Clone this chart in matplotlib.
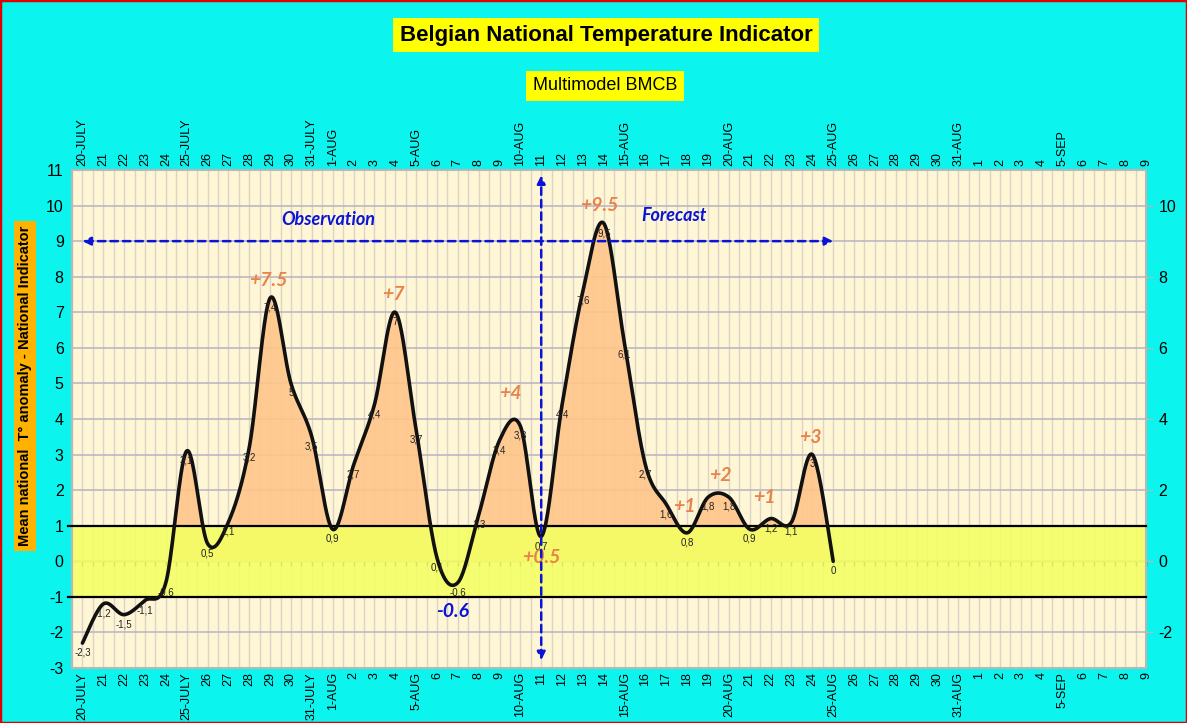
import numpy as np
import matplotlib
matplotlib.use("Agg")
import matplotlib.pyplot as plt
from matplotlib.patches import Rectangle

# ---------------- data ----------------
day_labels = ["20-JULY", "21", "22", "23", "24", "25-JULY", "26", "27", "28", "29", "30",
              "31-JULY", "1-AUG", "2", "3", "4", "5-AUG", "6", "7", "8", "9", "10-AUG",
              "11", "12", "13", "14", "15-AUG", "16", "17", "18", "19", "20-AUG",
              "21", "22", "23", "24", "25-AUG", "26", "27", "28", "29", "30", "31-AUG",
              "1", "2", "3", "4", "5-SEP", "6", "7", "8", "9"]
anomaly = [-2.3, -1.2, -1.5, -1.1, -0.6, 3.1, 0.5, 1.1, 3.2, 7.4, 5.0, 3.5, 0.9,
           2.7, 4.4, 7.0, 3.7, 0.1, -0.6, 1.3, 3.4, 3.8, 0.7, 4.4, 7.6, 9.5, 6.1,
           2.7, 1.6, 0.8, 1.8, 1.8, 0.9, 1.2, 1.1, 3.0, 0.0]
peak_texts = ["+7.5", "+7", "+4", "+9.5", "+1", "+2", "+1", "+3", "+0.5"]
peak_x = [8.9, 14.9, 20.5, 24.8, 28.85, 30.6, 32.7, 34.9, 22.0]
peak_y = [7.9, 7.5, 4.72, 10.0, 1.55, 2.42, 1.8, 3.49, 0.12]
obs_end = 22          # 11-AUG: split observation / forecast
band_lo, band_hi = -1, 1

# ---------------- colours ----------------
CYAN = "#0cf4ee"
CREAM = "#fff6d6"
ORANGE = "#ffc68a"
YELLOW = "#f4ff62"
PEAK = "#e8834c"
BLUE = "#0a14d8"

plt.rcParams["font.family"] = ["Liberation Sans", "DejaVu Sans"]
plt.rcParams["axes.unicode_minus"] = False

fig = plt.figure(figsize=(11.87, 7.23), dpi=100, facecolor=CYAN)
W, H = 1187, 723
ax = fig.add_axes([72 / W, (H - 668) / H, 1074 / W, 498 / H])
ax.set_facecolor(CREAM)

n = len(day_labels)
ax.set_xlim(-0.5, n - 1)
ax.set_ylim(-3, 11)

# grid
for v in np.arange(-0.5, n - 0.5, 0.5):
    ax.axvline(v, color="#dcd4c4", lw=1.0, zorder=0)
for v in range(-3, 12):
    ax.axhline(v, color="#bdb7c2", lw=1.2, zorder=0.5)

# smoothed curve (Catmull-Rom / Excel-like bezier)
x = np.arange(len(anomaly), dtype=float)
y = np.array(anomaly, dtype=float)
P = np.column_stack([x, y])
Pext = np.vstack([P[0], P, P[-1]])
t = np.linspace(0, 1, 40)
xs, ys = [], []
for i in range(len(P) - 1):
    p0, p1, p2, p3 = Pext[i], Pext[i + 1], Pext[i + 2], Pext[i + 3]
    c1 = p1 + (p2 - p0) / 6.0
    c2 = p2 - (p3 - p1) / 6.0
    b = ((1 - t) ** 3)[:, None] * p1 + (3 * (1 - t) ** 2 * t)[:, None] * c1 + \
        (3 * (1 - t) * t ** 2)[:, None] * c2 + (t ** 3)[:, None] * p2
    xs.append(b[:-1, 0]); ys.append(b[:-1, 1])
xs.append([P[-1, 0]]); ys.append([P[-1, 1]])
xs = np.concatenate(xs); ys = np.concatenate(ys)

ax.fill_between(xs, 0, np.clip(ys, 0, None), color=ORANGE, alpha=0.9, lw=0, zorder=1)
ax.axhspan(band_lo, band_hi, color=YELLOW, alpha=0.88, lw=0, zorder=2)
ax.axhline(band_hi, xmin=-0.004, color="black", lw=1.6, zorder=3, clip_on=False)
ax.axhline(band_lo, xmin=-0.004, color="black", lw=1.6, zorder=3, clip_on=False)
ax.plot(xs, ys, color="#111111", lw=2.6, zorder=5, solid_capstyle="round")

# zero axis with half-day ticks
zax = ax.secondary_xaxis(location=3 / 14)
zax.set_xticks(np.arange(-0.5, n - 0.5, 0.5))
zax.tick_params(axis="x", direction="out", length=3.5, width=1, labelbottom=False, color="#333333")
zax.spines["bottom"].set_color("#555555")
zax.spines["bottom"].set_linewidth(1)

# data labels
for xi, yi in zip(x, y):
    ax.annotate(f"{yi:g}".replace(".", ","), (xi, yi), xytext=(0, -7), textcoords="offset points",
                ha="center", va="center", fontsize=7, color="#222222", zorder=6)

# peak annotations
for txt, px, py in zip(peak_texts, peak_x, peak_y):
    ax.text(px, py, txt, ha="center", va="center", fontsize=14, color=PEAK,
            fontfamily="Lato", fontweight="bold", fontstyle="italic", zorder=7)
ax.text(17.77, -1.4, "-0.6", ha="center", va="center", fontsize=14, color=BLUE,
        fontfamily="Lato", fontweight="bold", fontstyle="italic", zorder=7)
ax.text(11.78, 9.61, "Observation", ha="center", va="center", fontsize=13, color=BLUE,
        fontfamily="Lato", fontweight="bold", fontstyle="italic", zorder=7)
ax.text(28.37, 9.72, "Forecast", ha="center", va="center", fontsize=13, color=BLUE,
        fontfamily="Lato", fontweight="bold", fontstyle="italic", zorder=7)

# dashed arrows
ax.annotate("", xy=(0, 9), xytext=(len(anomaly) - 1, 9),
            arrowprops=dict(arrowstyle="<|-|>", color=BLUE, lw=1.8, linestyle=(0, (3, 2)),
                            mutation_scale=12, shrinkA=0, shrinkB=0), zorder=8)
ax.annotate("", xy=(obs_end, 10.85), xytext=(obs_end, -2.78),
            arrowprops=dict(arrowstyle="<|-|>", color=BLUE, lw=1.8, linestyle=(0, (3, 2)),
                            mutation_scale=12, shrinkA=0, shrinkB=0), zorder=8)

# axes ticks
ax.set_xticks(np.arange(n))
ax.set_xticklabels(day_labels)
ax.tick_params(axis="x", which="both", length=0, labelsize=9, labelrotation=90,
               labeltop=True, labelbottom=True, pad=3)
ax.set_yticks(range(-3, 12))
ax.tick_params(axis="y", length=0, labelsize=11.5, pad=6)
for s in ax.spines.values():
    s.set_color("#b8b8b8")
    s.set_linewidth(1.5)

axr = ax.twinx()
axr.set_ylim(-3, 11)
axr.set_yticks(range(-2, 11, 2))
axr.tick_params(axis="y", length=5, color="#b8b8b8", labelsize=11.5, pad=4)
for s in axr.spines.values():
    s.set_visible(False)

# titles
fig.text(606 / W, 1 - 35 / H, "Belgian National Temperature Indicator", ha="center", va="center",
         fontsize=16, fontweight="bold",
         bbox=dict(boxstyle="square,pad=0.3", fc="#ffff00", ec="none"))
fig.text(605 / W, 1 - 86 / H, "Multimodel BMCB", ha="center", va="center", fontsize=13,
         bbox=dict(boxstyle="square,pad=0.35", fc="#ffff00", ec="none"))
fig.text(25 / W, 1 - 386 / H, "Mean national  T° anomaly - National Indicator", ha="center",
         va="center", rotation=90, fontsize=10.5, fontweight="bold",
         bbox=dict(boxstyle="square,pad=0.3", fc="#ffb300", ec="none"))

# figure red border
fig.patches.append(Rectangle((0, 0), 1, 1, transform=fig.transFigure, fill=False,
                             ec="#e00000", lw=2.5))

fig.savefig("out.png", dpi=100, facecolor=CYAN)
